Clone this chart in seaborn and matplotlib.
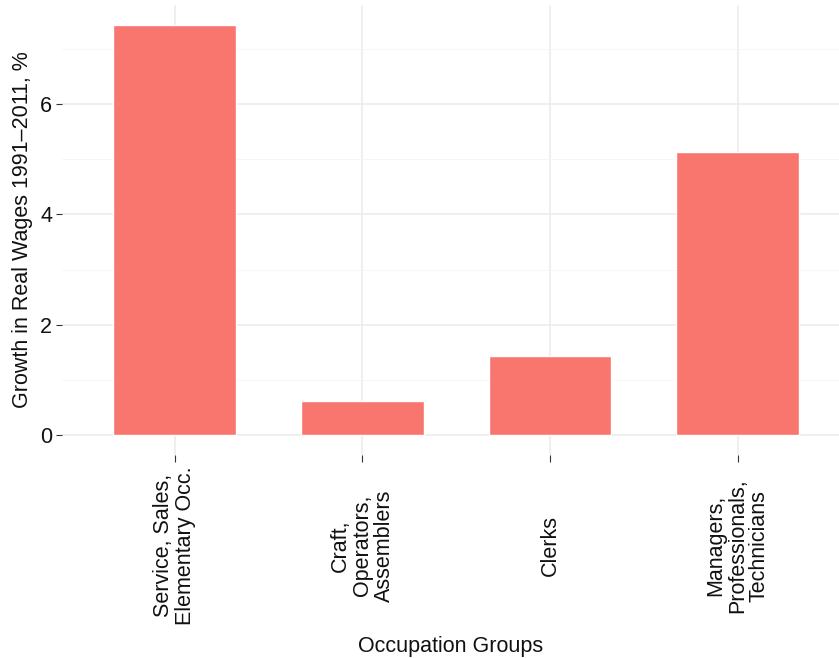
import numpy as np
import pandas as pd
import seaborn as sns
import matplotlib.pyplot as plt
from matplotlib.ticker import MultipleLocator

# values
groups = ["Service, Sales,\nElementary Occ.",
          "Craft,\nOperators,\nAssemblers",
          "Clerks",
          "Managers,\nProfessionals,\nTechnicians"]
growth = [7.44, 0.62, 1.44, 5.13]
y_ticks = [0, 2, 4, 6]

df = pd.DataFrame({"group": groups, "growth": growth})

sns.set_theme(style="white")
plt.rcParams['font.family'] = ['Liberation Sans', 'DejaVu Sans']

fig, ax = plt.subplots(figsize=(8.39, 6.58), dpi=100)
fig.subplots_adjust(left=0.074, right=1.0, top=0.993, bottom=0.308)

sns.barplot(data=df, x="group", y="growth", color="#F8766D", saturation=1,
            width=0.655, ax=ax, zorder=3)

ax.set_xlim(-0.6, 3.54)
ax.set_ylim(-0.372, 7.81)
ax.set_yticks(y_ticks)
ax.yaxis.set_minor_locator(MultipleLocator(1))

ax.grid(which="major", color="#EBEBEB", linewidth=1.1, zorder=0)
ax.grid(which="minor", axis="y", color="#F5F5F5", linewidth=0.6, zorder=0)
ax.set_axisbelow(True)
for s in ax.spines.values():
    s.set_visible(False)

fs = 15.5
ax.tick_params(axis="y", which="major", length=4, width=0.8, color="#333333",
               labelsize=fs, labelcolor="#111111", pad=3, left=True)
ax.tick_params(axis="y", which="minor", length=0)
ax.tick_params(axis="x", length=5, width=0.8, color="#333333",
               labelsize=fs, labelcolor="#111111", bottom=True, pad=60)
for lbl in ax.get_xticklabels():
    lbl.set_rotation(90)
    lbl.set_va("center")
    lbl.set_ha("center")
    lbl.set_multialignment("center")
    lbl.set_linespacing(1.05)

ax.set_xlabel("Occupation Groups", fontsize=fs, color="#111111", labelpad=8)
ax.set_ylabel("Growth in Real Wages 1991\u20132011, %", fontsize=fs,
              color="#111111", labelpad=5)

plt.savefig("out.png", dpi=100)
